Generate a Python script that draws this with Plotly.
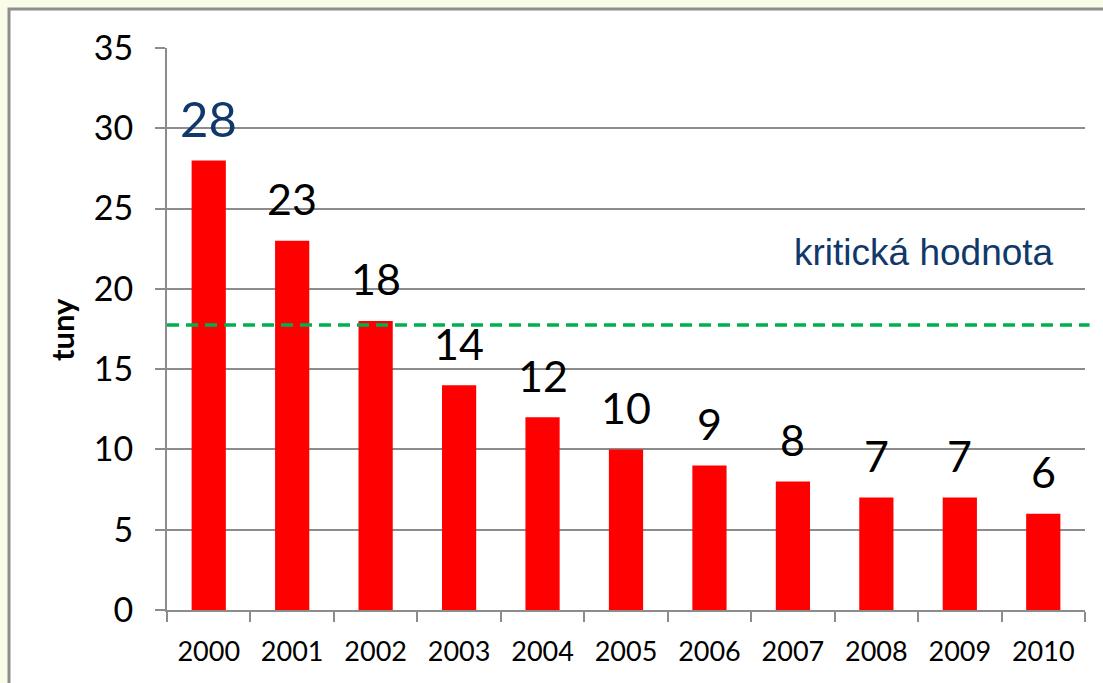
import plotly.graph_objects as go

years = ["2000", "2001", "2002", "2003", "2004", "2005", "2006", "2007", "2008", "2009", "2010"]
values = [28, 23, 18, 14, 12, 10, 9, 8, 7, 7, 6]
critical_value = 17.75
critical_label = "kritická hodnota"
y_title = "tuny"
y_ticks = [0, 5, 10, 15, 20, 25, 30, 35]

NAVY = "#10386B"
GRID = "#8C8C8C"
FONT = "Lato"

fig = go.Figure()
fig.add_trace(go.Bar(x=years, y=values, marker=dict(color="#FF0000", line=dict(width=0)),
                     hoverinfo="x+y"))

annotations = []
for i, v in enumerate(values):
    first = i == 0
    annotations.append(dict(
        x=i, y=v, xref="x", yref="y", text=str(v), showarrow=False,
        yanchor="middle", yshift=42,
        font=dict(family=FONT, size=49 if first else 43, color=NAVY if first else "#000000"),
    ))

annotations.append(dict(
    x=0.8246, y=0.637, xref="paper", yref="paper", text=critical_label, showarrow=False,
    xanchor="center", yanchor="middle",
    font=dict(family="Liberation Sans, Arial", size=37, color=NAVY),
))
annotations.append(dict(
    x=-0.1144, y=0.5, xref="paper", yref="paper", text="<b>" + y_title + "</b>", showarrow=False,
    textangle=-90, xanchor="center", yanchor="middle",
    font=dict(family=FONT, size=31, color="#000000"),
))

shapes = [
    dict(type="rect", xref="paper", yref="paper", x0=-0.1721, x1=1.05, y0=-0.2, y1=1.0694,
         fillcolor="white", line=dict(color="#8E8E8E", width=3), layer="below"),
    dict(type="line", xref="paper", yref="y", x0=0, x1=1.005, y0=critical_value, y1=critical_value,
         line=dict(color="#00B050", width=3.5, dash="12px,7px"), layer="above"),
]

fig.update_layout(
    width=1103, height=683,
    margin=dict(l=167, r=18, t=48, b=73),
    paper_bgcolor="#FAFBE9",
    plot_bgcolor="white",
    bargap=0.59,
    showlegend=False,
    annotations=annotations,
    shapes=shapes,
    xaxis=dict(
        type="category", range=[-0.5, 10.5], showgrid=False, showline=True, linecolor=GRID, linewidth=2,
        ticks="outside", tickson="boundaries", ticklen=10, tickcolor=GRID, tickwidth=2,
        tickfont=dict(family=FONT, size=27, color="#000000"), ticklabelstandoff=17,
        tickangle=0, automargin=False, fixedrange=True,
    ),
    yaxis=dict(
        range=[0, 35], tickvals=y_ticks, showgrid=True, gridcolor=GRID, gridwidth=2,
        showline=True, linecolor=GRID, linewidth=2, zeroline=False,
        ticks="outside", ticklen=10, tickcolor=GRID, tickwidth=2,
        tickfont=dict(family=FONT, size=34, color="#000000"), ticklabelstandoff=15,
        automargin=False, fixedrange=True,
    ),
)

fig.write_html(
    "out.html",
    config={"displayModeBar": False},
    post_script="document.body.style.margin='0';document.body.style.overflow='hidden';",
)
